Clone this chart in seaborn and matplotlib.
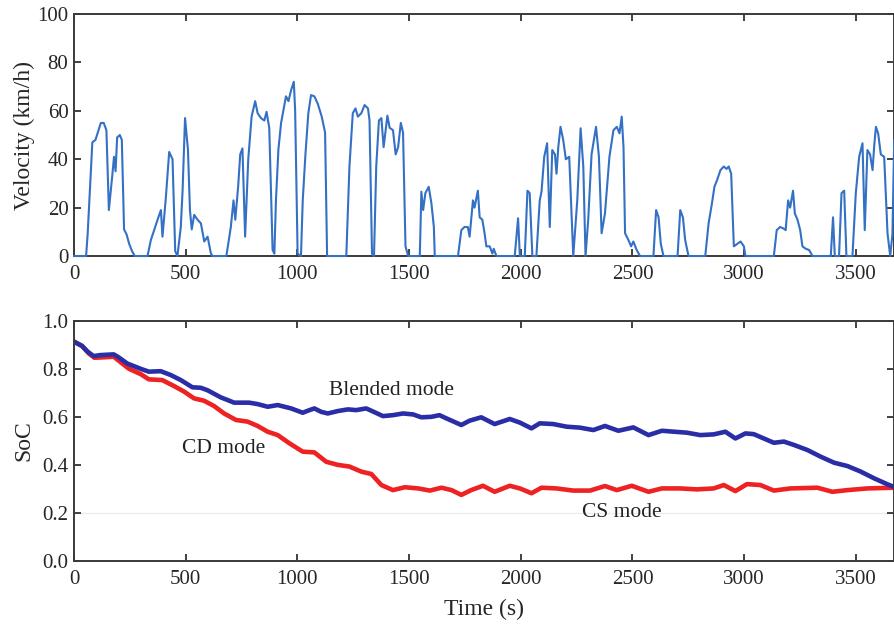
import numpy as np
import pandas as pd
import matplotlib
matplotlib.use("Agg")
import matplotlib.pyplot as plt
import seaborn as sns

# ---------------- data ----------------
vel_time = [0, 54, 61, 82, 96, 120, 133, 145, 156, 171, 179, 186, 193, 205, 214, 224, 235, 247, 260, 272,
            329, 344, 374, 389, 396, 411, 426, 441, 453, 463, 478, 486, 497, 510, 519, 527, 538, 553, 568, 583, 598, 613, 620,
            682, 702, 714, 722, 735, 744, 754, 766, 780, 795, 811, 822, 837, 852, 862, 874, 889, 897,
            904, 915, 927, 939, 949, 960, 972, 984, 990, 1001, 1016,
            1024, 1036, 1049, 1061, 1076, 1091, 1109, 1124, 1133,
            1219, 1233, 1248, 1260, 1271, 1286, 1301, 1316, 1323, 1334, 1343,
            1353, 1365, 1376, 1386, 1394, 1403, 1413, 1428, 1440, 1451, 1463, 1473, 1484, 1496,
            1548, 1555, 1563, 1573, 1588, 1600, 1611, 1615,
            1719, 1734, 1748, 1763, 1771, 1786, 1793, 1808, 1816, 1828, 1838, 1846, 1861, 1873, 1879, 1891,
            1973, 1988, 1996, 2018, 2030, 2040, 2052,
            2070, 2085, 2093, 2105, 2118, 2130, 2141, 2153, 2160, 2168, 2178, 2190, 2202, 2217, 2235,
            2253, 2268, 2280, 2290, 2302, 2317, 2337, 2350, 2362, 2377, 2397, 2415, 2430, 2442, 2452, 2460, 2467,
            2482, 2494, 2504, 2519, 2534,
            2594, 2606, 2617, 2627, 2639,
            2702, 2714, 2726, 2736, 2751,
            2826, 2841, 2856, 2867, 2879, 2894, 2909, 2921, 2931, 2942, 2954, 2969, 2984, 2999, 3006,
            3133, 3146, 3161, 3176, 3186, 3197, 3206, 3219, 3227, 3239, 3251, 3261, 3276, 3291, 3306,
            3388, 3398, 3406, 3425, 3436, 3448, 3458,
            3485, 3500, 3515, 3530, 3540, 3552, 3564, 3575, 3582, 3590, 3600, 3612, 3627, 3642, 3654, 3664, 3672]
vel_kmh = [0, 0, 9, 47, 48, 55, 55, 52, 19, 33, 41, 35, 49, 50, 48, 11, 9, 5, 2, 0,
           0, 6.6, 15, 19, 8, 24, 43, 40, 2, 0, 12, 27, 57, 44, 19, 11, 17, 15, 13.5, 6, 8, 1, 0,
           0, 12, 23, 15, 29, 42, 44.5, 8, 40, 57.6, 64, 59, 57, 56, 59.6, 53, 2.5, 1,
           23, 44, 55, 61, 66, 64, 68.6, 72, 60, 1, 0,
           23, 42, 59, 66.5, 66, 63, 57.6, 51, 0,
           0, 37, 59, 61, 57.6, 59, 62.4, 61, 56, 1, 0,
           37, 56, 57, 45, 51, 58, 53, 52, 42, 45, 55, 51, 4, 0,
           0, 26.6, 19, 26, 28.6, 21.8, 12, 0,
           0, 10.7, 12, 12, 8, 23, 20, 27, 16, 15, 9.4, 4, 4, 1, 3, 0,
           0, 15.6, 0, 0, 27, 26, 0,
           0, 23, 26.6, 41, 46.6, 12, 43.8, 42, 34, 45, 53.4, 48, 40, 41, 0,
           23, 52.8, 37, 0, 15, 42, 53.4, 41, 9.4, 17.6, 41, 52, 53.4, 50.7, 57.6, 45, 9.4,
           6.6, 4, 6, 2.5, 0,
           0, 19, 16, 5, 0,
           0, 19, 16, 6.6, 0,
           0, 13.5, 21.8, 28.6, 31.4, 35.5, 37, 36, 37, 34, 4, 5, 6, 4, 0,
           0, 10.7, 12, 11.4, 10.7, 23, 20, 27, 17.6, 15, 10.7, 4, 3, 2.5, 0,
           0, 16, 0, 0, 26, 27, 0,
           0, 26, 41, 46.6, 10.7, 43.8, 42, 35.5, 45, 53.4, 50.7, 42, 41, 9.4, 0, 9, 48]

blend_time = [0, 36, 61, 88, 118, 178, 201, 238, 298, 335, 388, 433, 478, 530, 567, 597, 657, 717, 784, 822,
              867, 912, 972, 1024, 1054, 1076, 1106, 1136, 1181, 1226, 1263, 1308, 1346, 1383, 1428, 1473,
              1518, 1555, 1600, 1636, 1666, 1734, 1771, 1823, 1883, 1951, 1996, 2048, 2085, 2145, 2205,
              2265, 2325, 2377, 2437, 2504, 2572, 2632, 2744, 2804, 2864, 2916, 2961, 3006, 3043, 3088,
              3133, 3178, 3223, 3283, 3343, 3403, 3463, 3522, 3582, 3642, 3672]
blend_soc = [0.913, 0.895, 0.871, 0.853, 0.857, 0.860, 0.847, 0.822, 0.800, 0.788, 0.790, 0.774, 0.753, 0.723,
             0.721, 0.711, 0.681, 0.659, 0.659, 0.653, 0.642, 0.649, 0.635, 0.617, 0.628, 0.635, 0.621, 0.614,
             0.624, 0.631, 0.628, 0.635, 0.619, 0.603, 0.607, 0.614, 0.610, 0.598, 0.600, 0.607, 0.594, 0.566,
             0.584, 0.598, 0.570, 0.591, 0.576, 0.552, 0.573, 0.570, 0.559, 0.555, 0.545, 0.562, 0.542, 0.556,
             0.524, 0.542, 0.534, 0.524, 0.527, 0.538, 0.510, 0.531, 0.528, 0.510, 0.492, 0.497, 0.483, 0.462,
             0.434, 0.409, 0.395, 0.372, 0.344, 0.319, 0.308]

cd_time = [0, 36, 66, 91, 118, 178, 216, 246, 298, 335, 395, 448, 493, 537, 582, 627, 672, 725, 777, 822,
           867, 912, 964, 1024, 1076, 1129, 1181, 1233, 1286, 1331, 1376, 1428, 1481, 1541, 1593, 1645,
           1690, 1734, 1778, 1831, 1883, 1951, 1996, 2048, 2093, 2160, 2235, 2310, 2377, 2430, 2497, 2572,
           2632, 2714, 2789, 2864, 2909, 2961, 3013, 3073, 3133, 3208, 3328, 3395, 3463, 3552, 3672]
cd_soc = [0.913, 0.895, 0.864, 0.846, 0.847, 0.850, 0.822, 0.800, 0.778, 0.756, 0.753, 0.728, 0.705, 0.677,
          0.667, 0.645, 0.614, 0.587, 0.580, 0.562, 0.538, 0.524, 0.490, 0.455, 0.452, 0.413, 0.400, 0.393,
          0.372, 0.362, 0.316, 0.295, 0.307, 0.302, 0.293, 0.305, 0.295, 0.275, 0.295, 0.313, 0.288, 0.313,
          0.302, 0.282, 0.305, 0.302, 0.293, 0.293, 0.312, 0.295, 0.313, 0.288, 0.302, 0.302, 0.298, 0.302,
          0.316, 0.291, 0.320, 0.316, 0.293, 0.302, 0.305, 0.288, 0.295, 0.302, 0.305]

vel_ticks = [0, 20, 40, 60, 80, 100]
soc_ticks = [0.0, 0.2, 0.4, 0.6, 0.8, 1.0]
time_ticks = [0, 500, 1000, 1500, 2000, 2500, 3000, 3500]
annotations = [("Blended mode", 1421, 0.708), ("CD mode", 668, 0.470), ("CS mode", 2452, 0.203)]

# ---------------- style ----------------
sns.set_style("ticks")
plt.rcParams['font.family'] = ['Liberation Serif', 'DejaVu Serif']
plt.rcParams['xtick.direction'] = 'in'
plt.rcParams['ytick.direction'] = 'in'

fig = plt.figure(figsize=(8.94, 6.24), dpi=100)
ax1 = fig.add_axes([0.0828, 0.5897, 0.9167, 0.3878])
ax2 = fig.add_axes([0.0828, 0.101, 0.9167, 0.385])

vel_df = pd.DataFrame({"t": vel_time, "v": vel_kmh})
sns.lineplot(data=vel_df, x="t", y="v", ax=ax1, color="#3470c4", linewidth=1.5, sort=False,
             zorder=3, clip_on=False)

blend_df = pd.DataFrame({"t": blend_time, "soc": blend_soc})
cd_df = pd.DataFrame({"t": cd_time, "soc": cd_soc})
ax2.axhline(soc_ticks[1], color="#ececec", linewidth=1.0, zorder=0)
sns.lineplot(data=cd_df, x="t", y="soc", ax=ax2, color="#ee2222", linewidth=3.3, sort=False)
sns.lineplot(data=blend_df, x="t", y="soc", ax=ax2, color="#2a2ea6", linewidth=3.3, sort=False)

xmax = 3669
for ax in (ax1, ax2):
    ax.set_xlim(0, xmax)
    ax.set_xticks(time_ticks)
    ax.tick_params(axis='both', which='both', top=True, right=True, labelsize=15,
                   length=5, width=1.3, color="#333333", pad=6.5)
    for s in ax.spines.values():
        s.set_color("#3a3a3a")
        s.set_linewidth(1.4)

ax1.set_ylim(0, 100)
ax1.set_yticks(vel_ticks)
ax1.set_xlabel("")
ax1.set_ylabel("Velocity (km/h)", fontsize=17, labelpad=2)
ax1.tick_params(axis='y', pad=4)

ax2.set_ylim(0, 1.0)
ax2.set_yticks(soc_ticks)
ax2.set_yticklabels([f"{v:.1f}" for v in soc_ticks])
ax2.set_xlabel("Time (s)", fontsize=17, labelpad=7)
ax2.set_ylabel("SoC", fontsize=17, labelpad=6)
ax2.tick_params(axis='y', pad=4)

for text, tx, ty in annotations:
    ax2.text(tx, ty, text, fontsize=15.5, ha="center", va="center", color="#222222")

fig.savefig("out.png", dpi=100)
